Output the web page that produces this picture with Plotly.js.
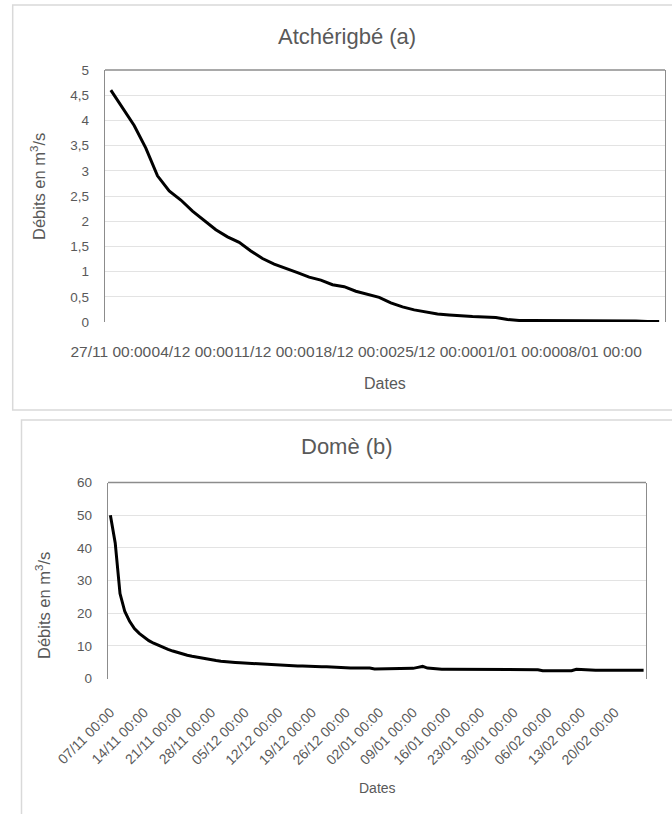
<!DOCTYPE html>
<html><head><meta charset="utf-8">
<script src="https://cdn.plot.ly/plotly-3.0.1.min.js"></script>
<style>html,body{margin:0;padding:0;background:#fff}#chart{width:672px;height:814px}</style>
</head><body><div id="chart"></div>
<script>
// ---- Data ----
const atcheStart = '2014-11-27';
const atcheFlow = [4.60,4.25,3.90,3.45,2.90,2.60,2.42,2.20,2.02,1.83,
  1.69,1.58,1.41,1.26,1.15,1.07,0.98,0.89,0.83,0.74,
  0.70,0.61,0.55,0.49,0.38,0.30,0.24,0.20,0.16,0.14,
  0.12,0.11,0.10,0.09,0.05,0.03,0.03,0.03,0.03,0.03,
  0.03,0.03,0.02,0.02,0.02,0.02,0.01,0.01];
const domeStart = '2014-11-07';
const domeFlow = [50,41.5,26,20.5,17.5,15.3,13.8,12.6,11.6,10.8,
  10.1,9.4,8.9,8.4,7.9,7.5,7.1,6.8,6.5,6.2,
  6.0,5.7,5.5,5.3,5.1,5.0,4.9,4.8,4.7,4.6,
  4.5,4.4,4.4,4.3,4.2,4.1,4.0,4.0,3.9,3.8,
  3.8,3.7,3.7,3.6,3.6,3.6,3.5,3.5,3.2,3.2,
  3.2,3.2,3.2,3.2,3.2,2.9,2.9,2.9,2.9,2.9,
  2.9,2.9,2.9,3.1,3.4,3.7,3.2,3.0,2.8,2.8,
  2.8,2.8,2.8,2.8,2.8,2.8,2.8,2.8,2.8,2.8,
  2.8,2.8,2.8,2.8,2.8,2.8,2.8,2.8,2.8,2.7,
  2.4,2.4,2.4,2.4,2.4,2.4,2.4,2.8,2.7,2.5,
  2.5,2.5,2.5,2.5,2.5,2.5,2.5,2.5,2.5,2.5,
  2.5,2.5];
const atcheYTicks = [0,0.5,1,1.5,2,2.5,3,3.5,4,4.5,5];
const atcheYLabels = ['0','0,5','1','1,5','2','2,5','3','3,5','4','4,5','5'];
const domeYTicks = [0,10,20,30,40,50,60];
const domeYLabels = ['0','10','20','30','40','50','60'];
const titleA = 'Atchérigbé (a)';
const titleB = 'Domè (b)';
const yTitle = 'Débits en m<sup>3</sup>/s';
const xTitle = 'Dates';

function dayList(start, n){
  const p = start.split('-').map(Number);
  const out = [];
  for (let i = 0; i < n; i++) {
    out.push(new Date(Date.UTC(p[0], p[1]-1, p[2] + i)).toISOString().slice(0,10));
  }
  return out;
}
function shift(d, hours){
  const t = new Date(d + 'T00:00:00Z').getTime() + hours*3600000;
  return new Date(t).toISOString().replace('T',' ').slice(0,19);
}
const atcheDates = dayList(atcheStart, atcheFlow.length);
const domeDates = dayList(domeStart, domeFlow.length);

const W = 672, H = 814;
const px = v => v / W;
const py = v => 1 - v / H;

const FONT = 'Liberation Sans, Arial, sans-serif';
const GREY = '#595959';
const DAY7 = 7*86400000;

const traces = [
  {x: atcheDates, y: atcheFlow, type: 'scatter', mode: 'lines', xaxis: 'x', yaxis: 'y',
   line: {color: '#000', width: 3}, hoverinfo: 'skip'},
  {x: domeDates, y: domeFlow, type: 'scatter', mode: 'lines', xaxis: 'x2', yaxis: 'y2',
   line: {color: '#000', width: 3}, hoverinfo: 'skip'}
];

const axisFont = {family: FONT, size: 13.5, color: GREY};
const layout = {
  width: W, height: H, margin: {l:0, r:0, t:0, b:0},
  paper_bgcolor: '#fff', plot_bgcolor: '#fff', showlegend: false,
  xaxis: {domain: [px(105), px(665)], anchor: 'y', type: 'date',
    range: [shift(atcheDates[0], -12), shift(atcheDates[atcheDates.length-1], 12)],
    tick0: atcheDates[0], dtick: DAY7, tickformat: '%d/%m %H:%M', tickangle: 0,
    showgrid: false, zeroline: false, showline: false, ticks: '',
    ticklabelstandoff: 18, tickfont: {family: FONT, size: 15.5, color: GREY}},
  yaxis: {domain: [py(322), py(70)], anchor: 'x', range: [0, 5],
    tickvals: atcheYTicks, ticktext: atcheYLabels, showgrid: true, gridcolor: '#e3e3e3', gridwidth: 1,
    zeroline: false, showline: true, mirror: true, linecolor: '#8c8c8c', linewidth: 1.3, ticks: '',
    ticklabelstandoff: 12, tickfont: axisFont},
  xaxis2: {domain: [px(108), px(646)], anchor: 'y2', type: 'date',
    range: [shift(domeDates[0], -12), shift(domeDates[domeDates.length-1], 12)],
    tick0: domeDates[0], dtick: DAY7, tickformat: '%d/%m %H:%M', tickangle: -45,
    showgrid: false, zeroline: false, showline: false, ticks: '',
    ticklabelstandoff: 22, tickfont: {family: FONT, size: 14, color: GREY}},
  yaxis2: {domain: [py(678.5), py(482.5)], anchor: 'x2', range: [0, 60],
    tickvals: domeYTicks, ticktext: domeYLabels, showgrid: true, gridcolor: '#e3e3e3', gridwidth: 1,
    zeroline: false, showline: true, mirror: true, linecolor: '#8c8c8c', linewidth: 1.3, ticks: '',
    ticklabelstandoff: 12, tickfont: axisFont},
  shapes: [
    {type: 'rect', xref: 'paper', yref: 'paper', x0: px(12.7), x1: 1.05, y0: py(410), y1: py(5),
     line: {color: '#d9d9d9', width: 1.5}, fillcolor: 'rgba(0,0,0,0)', layer: 'below'},
    {type: 'rect', xref: 'paper', yref: 'paper', x0: px(21.5), x1: 1.05, y0: -0.05, y1: py(420),
     line: {color: '#d9d9d9', width: 1.5}, fillcolor: 'rgba(0,0,0,0)', layer: 'below'},
    {type: 'line', xref: 'x domain', yref: 'y domain', x0: 0, x1: 1, y0: 1, y1: 1,
     line: {color: '#8c8c8c', width: 1.3}},
    {type: 'line', xref: 'x2 domain', yref: 'y2 domain', x0: 0, x1: 1, y0: 1, y1: 1,
     line: {color: '#8c8c8c', width: 1.3}}
  ],
  annotations: [
    {text: titleA, xref: 'paper', yref: 'paper', x: px(347), y: py(36), showarrow: false,
     xanchor: 'center', yanchor: 'middle', font: {family: FONT, size: 22, color: GREY}},
    {text: titleB, xref: 'paper', yref: 'paper', x: px(347), y: py(447), showarrow: false,
     xanchor: 'center', yanchor: 'middle', font: {family: FONT, size: 22, color: GREY}},
    {text: xTitle, xref: 'paper', yref: 'paper', x: px(385), y: py(383), showarrow: false,
     xanchor: 'center', yanchor: 'middle', font: {family: FONT, size: 16, color: GREY}},
    {text: xTitle, xref: 'paper', yref: 'paper', x: px(377), y: py(788), showarrow: false,
     xanchor: 'center', yanchor: 'middle', font: {family: FONT, size: 14, color: GREY}},
    {text: yTitle, xref: 'paper', yref: 'paper', x: px(38), y: py(187), showarrow: false, textangle: -90,
     xanchor: 'center', yanchor: 'middle', font: {family: FONT, size: 16.5, color: GREY}},
    {text: yTitle, xref: 'paper', yref: 'paper', x: px(43), y: py(606), showarrow: false, textangle: -90,
     xanchor: 'center', yanchor: 'middle', font: {family: FONT, size: 16.5, color: GREY}}
  ]
};

Plotly.newPlot('chart', traces, layout, {staticPlot: true, displayModeBar: false});
</script>
</body></html>
